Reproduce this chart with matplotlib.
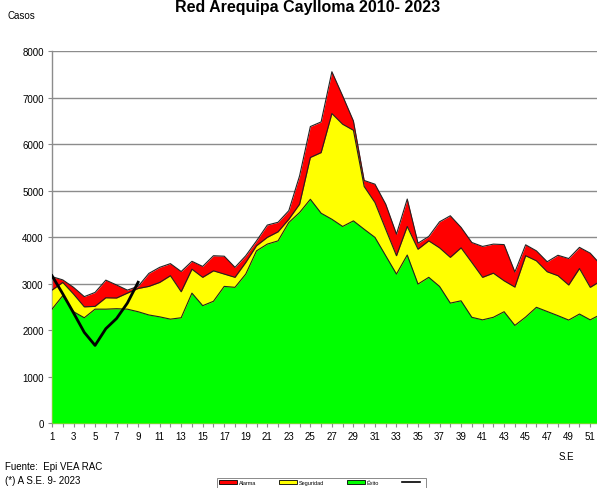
import numpy as np
import matplotlib
matplotlib.use("Agg")
import matplotlib.pyplot as plt
from matplotlib.patches import Patch
from matplotlib.lines import Line2D

# ---------------- data ----------------
weeks = list(range(1, 53))

alarma = [3150, 3080, 2920, 2720, 2810, 3075, 2970, 2860, 2940, 3220,
          3350, 3430, 3260, 3480, 3370, 3600, 3590, 3350, 3600, 3920,
          4260, 4320, 4570, 5320, 6380, 6480, 7560, 7040, 6500, 5220,
          5140, 4710, 4065, 4820, 3870, 4015, 4330, 4460, 4210, 3885,
          3800, 3850, 3840, 3250, 3835, 3705, 3470, 3610, 3540, 3780,
          3655, 3400]

seguridad = [2860, 3025, 2775, 2500, 2510, 2695, 2690, 2795, 2895, 2940,
             3025, 3170, 2825, 3310, 3135, 3275, 3205, 3135, 3455, 3815,
             3995, 4115, 4385, 4710, 5715, 5820, 6660, 6430, 6300, 5090,
             4745, 4170, 3600, 4230, 3740, 3920, 3770, 3565, 3770, 3455,
             3135, 3225, 3060, 2925, 3600, 3490, 3255, 3170, 2970, 3325,
             2920, 3060]

exito = [2450, 2740, 2395, 2265, 2450, 2450, 2460, 2450, 2395, 2325,
         2285, 2235, 2265, 2795, 2525, 2620, 2940, 2920, 3205, 3705,
         3850, 3920, 4315, 4530, 4815, 4515, 4385, 4230, 4350, 4170,
         3995, 3600, 3205, 3615, 2990, 3135, 2940, 2580, 2630, 2275,
         2220, 2275, 2395, 2100, 2280, 2490, 2400, 2310, 2215, 2345,
         2220, 2340]

weeks_2023 = list(range(1, 10))
casos_2023 = [3170, 2780, 2370, 1950, 1670, 2030, 2250, 2580, 3030]

yticks = list(range(0, 8001, 1000))
xlabels = [str(w) if w % 2 == 1 else "" for w in weeks]

# ---------------- figure ----------------
narrow = ["Liberation Sans Narrow", "Liberation Sans", "DejaVu Sans"]
plt.rcParams["font.family"] = narrow

W, H = 597, 489
fig = plt.figure(figsize=(W / 100, H / 100), dpi=100)
# axes run a little past the right border, as in the cropped original
ax = fig.add_axes([52 / W, 65 / H, 549 / W, 371.7 / H])

edge = "#222222"
ax.fill_between(weeks, 0, alarma, color="#ff0000", lw=0, zorder=2)
ax.fill_between(weeks, 0, seguridad, color="#ffff00", lw=0, zorder=3)
ax.fill_between(weeks, 0, exito, color="#00ff00", lw=0, zorder=4)
ax.plot(weeks, alarma, color=edge, lw=0.8, zorder=5)
ax.plot(weeks, seguridad, color=edge, lw=0.8, zorder=5)
ax.plot(weeks, exito, color=edge, lw=0.8, zorder=5)
ax.plot(weeks_2023, casos_2023, color="black", lw=2.0, zorder=6)

ax.set_xlim(1, 52)
ax.set_ylim(0, 8000)
ax.set_yticks(yticks)
ax.set_xticks(weeks)
ax.set_xticklabels(xlabels)
ax.yaxis.grid(True, color="#8c8c8c", lw=1.0, zorder=0)
ax.set_axisbelow(True)

for s in ["top", "right"]:
    ax.spines[s].set_visible(False)
for s in ["left", "bottom"]:
    ax.spines[s].set_color("#8c8c8c")
    ax.spines[s].set_linewidth(1.0)

ax.tick_params(axis="both", labelsize=7, colors="#8c8c8c", labelcolor="black",
               length=3, width=0.8, pad=3)

fig.text(308 / W, 1 - 12 / H, "Red Arequipa Caylloma 2010- 2023",
         ha="center", va="baseline", fontsize=11.5, fontweight="bold")
fig.text(21 / W, 1 - 16 / H, "Casos", ha="center", va="center", fontsize=7)
fig.text(566 / W, 1 - 457 / H, "S.E", ha="center", va="center", fontsize=7)
fig.text(5 / W, 1 - 467 / H, "Fuente:  Epi VEA RAC", ha="left", va="center",
         fontsize=7)
fig.text(5 / W, 1 - 481 / H, "(*) A S.E. 9- 2023", ha="left", va="center",
         fontsize=7)

handles = [
    Patch(facecolor="#ff0000", edgecolor="black", lw=0.6),
    Patch(facecolor="#ffff00", edgecolor="black", lw=0.6),
    Patch(facecolor="#00ff00", edgecolor="black", lw=0.6),
    Line2D([], [], color="black", lw=1.2),
]
labels = ["Alarma", "Seguridad", "Éxito", " "]
leg = fig.legend(handles, labels, loc="upper left",
                 bbox_to_anchor=(217 / W, 1 - 479 / H), ncol=4, fontsize=4,
                 frameon=True, fancybox=False, edgecolor="#555555",
                 handlelength=3.2, handleheight=0.8, columnspacing=4.2,
                 handletextpad=0.3, borderpad=0.4, borderaxespad=0)
leg.get_frame().set_linewidth(0.6)

fig.savefig("out.png", dpi=100)
